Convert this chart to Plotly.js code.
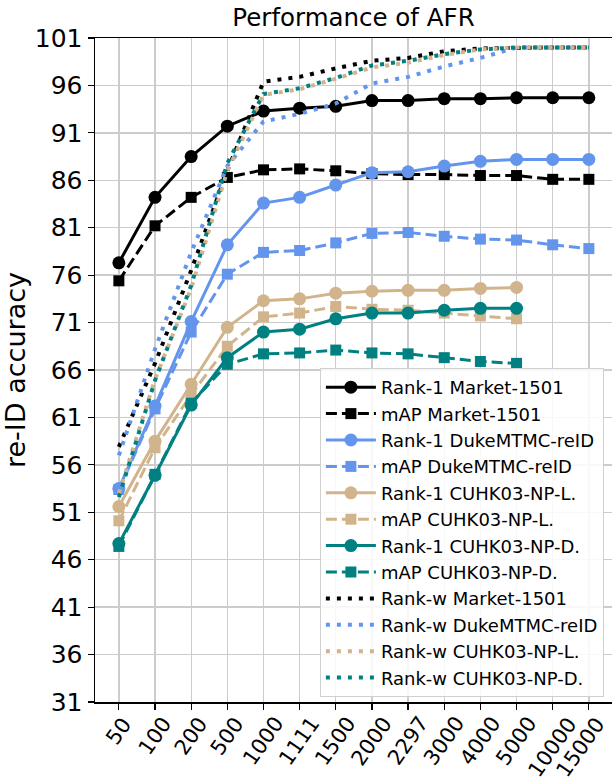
<!DOCTYPE html>
<html>
<head>
<meta charset="utf-8">
<script src="https://cdn.plot.ly/plotly-3.0.1.min.js"></script>
<style>html,body{margin:0;padding:0;background:#fff;}#chart{width:612px;height:784px;}</style>
</head>
<body>
<div id="chart"></div>
<script>
const categories = ["50","100","200","500","1000","1111","1500","2000","2297","3000","4000","5000","10000","15000"];
const yTicks = [31,36,41,46,51,56,61,66,71,76,81,86,91,96,101];

const rank1Market = [77.3, 84.2, 88.5, 91.7, 93.3, 93.6, 93.8, 94.4, 94.4, 94.6, 94.6, 94.7, 94.7, 94.7];
const mapMarket   = [75.4, 81.2, 84.2, 86.3, 87.1, 87.2, 87.0, 86.7, 86.6, 86.6, 86.5, 86.5, 86.1, 86.1];
const rank1Duke   = [53.5, 62.2, 71.1, 79.2, 83.6, 84.2, 85.5, 86.8, 86.9, 87.5, 88.0, 88.2, 88.2, 88.2];
const mapDuke     = [53.4, 61.9, 70.0, 76.1, 78.4, 78.6, 79.4, 80.4, 80.5, 80.1, 79.8, 79.7, 79.2, 78.8];
const rank1CuhkL  = [51.6, 58.5, 64.5, 70.5, 73.3, 73.5, 74.1, 74.3, 74.4, 74.4, 74.6, 74.7];
const mapCuhkL    = [50.1, 57.8, 63.4, 68.5, 71.6, 72.0, 72.7, 72.4, 72.3, 72.0, 71.7, 71.4];
const rank1CuhkD  = [47.7, 54.9, 62.3, 67.3, 70.0, 70.3, 71.4, 72.0, 72.0, 72.3, 72.5, 72.5];
const mapCuhkD    = [47.4, 55.0, 62.5, 66.6, 67.7, 67.8, 68.1, 67.8, 67.7, 67.3, 66.9, 66.7];
const rankwMarket = [57.9, 66.7, 76.5, 87.0, 96.4, 96.9, 97.8, 98.6, 98.9, 99.6, 99.9, 100.0, 100.0, 100.0];
const rankwDuke   = [57.0, 68.2, 78.4, 87.5, 92.2, 93.0, 94.1, 96.2, 96.9, 98.0, 98.9, 100.0, 100.0, 100.0];
const rankwCuhkL  = [53.0, 65.0, 74.6, 87.0, 95.0, 95.6, 96.7, 97.9, 98.4, 99.2, 99.8, 100.0, 100.0, 100.0];
const rankwCuhkD  = [52.6, 64.9, 74.9, 87.8, 95.1, 95.7, 96.8, 98.1, 98.6, 99.3, 99.8, 100.0, 100.0, 100.0];

const BLACK = '#000000', BLUE = '#6495ED', TAN = '#D2B48C', TEAL = '#008080';

function idx(arr){ return arr.map((_, i) => i); }

function solid(name, y, color){
  return {type:'scatter', mode:'lines+markers', name, x: idx(y), y,
    line:{color, width:3}, marker:{symbol:'circle', size:13, color}};
}
function dashed(name, y, color){
  return {type:'scatter', mode:'lines+markers', name, x: idx(y), y,
    line:{color, width:3, dash:'11px,5px'}, marker:{symbol:'square', size:11, color}};
}
function dotted(name, y, color){
  return {type:'scatter', mode:'lines', name, x: idx(y), y,
    line:{color, width:4, dash:'4px,7px'}};
}

const data = [
  solid('Rank-1 Market-1501', rank1Market, BLACK),
  dashed('mAP Market-1501', mapMarket, BLACK),
  solid('Rank-1 DukeMTMC-reID', rank1Duke, BLUE),
  dashed('mAP DukeMTMC-reID', mapDuke, BLUE),
  solid('Rank-1 CUHK03-NP-L.', rank1CuhkL, TAN),
  dashed('mAP CUHK03-NP-L.', mapCuhkL, TAN),
  solid('Rank-1 CUHK03-NP-D.', rank1CuhkD, TEAL),
  dashed('mAP CUHK03-NP-D.', mapCuhkD, TEAL),
  dotted('Rank-w Market-1501', rankwMarket, BLACK),
  dotted('Rank-w DukeMTMC-reID', rankwDuke, BLUE),
  dotted('Rank-w CUHK03-NP-L.', rankwCuhkL, TAN),
  dotted('Rank-w CUHK03-NP-D.', rankwCuhkD, TEAL)
];

// x tick labels: rotated, bounding box centred under each tick (matplotlib style)
const xLabelAnnotations = categories.map((c, i) => ({
  text: c, x: i, xref:'x', y: 0, yref:'paper',
  xanchor:'center', yanchor:'top', yshift:-8, textangle:-55,
  xshift: (i === categories.length - 1) ? -8 : 0,
  showarrow:false, font:{size:21, color:'#000'}
}));

const layout = {
  width:612, height:784,
  margin:{l:95, r:0, t:38, b:82},
  paper_bgcolor:'#fff', plot_bgcolor:'#fff',
  font:{family:'DejaVu Sans', color:'#000'},
  showlegend:true,
  title:{text:'Performance of AFR', font:{size:24.5, color:'#000'}, xref:'paper', x:0.5, xanchor:'center', yref:'container', y:1-17/784, yanchor:'middle'},
  xaxis:{
    range:[-0.66, 13.64], tickmode:'array', tickvals: idx(categories), ticktext: categories,
    showticklabels:false, ticks:'outside', ticklen:6, tickwidth:1.2, tickcolor:'#000',
    showgrid:true, gridcolor:'#cccccc', gridwidth:1.3,
    showline:true, linecolor:'#000', linewidth:1.5, mirror:true, zeroline:false
  },
  yaxis:{
    range:[31, 101], tickmode:'array', tickvals:yTicks, ticktext:yTicks.map(String),
    tickfont:{size:25}, ticks:'outside', ticklen:6, tickwidth:1.2, tickcolor:'#000',
    showgrid:true, gridcolor:'#cccccc', gridwidth:1.3,
    showline:true, linecolor:'#000', linewidth:1.5, mirror:true, zeroline:false,
    title:{text:'re-ID accuracy', font:{size:27}, standoff:6}
  },
  annotations: xLabelAnnotations,
  legend:{
    x:0.435, y:0.503, xanchor:'left', yanchor:'top',
    bgcolor:'rgba(255,255,255,0.85)', bordercolor:'#d0d0d0', borderwidth:1,
    font:{size:18, color:'#000'}, itemwidth:50, tracegroupgap:0
  }
};

Plotly.newPlot('chart', data, layout, {staticPlot:true, displayModeBar:false});
</script>
</body>
</html>
